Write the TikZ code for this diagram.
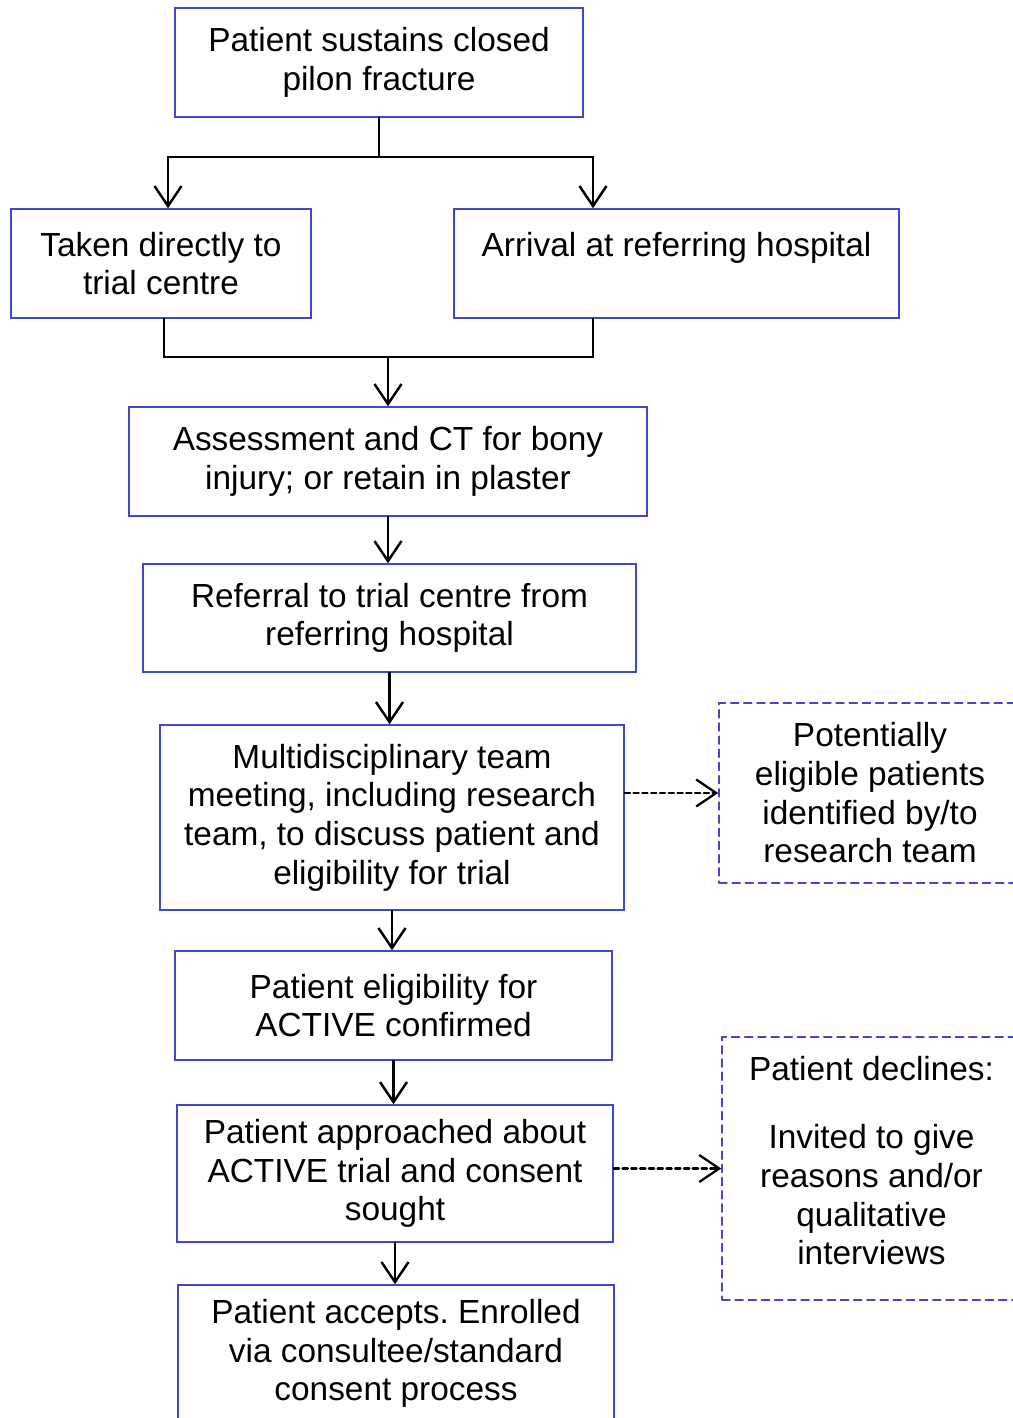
\documentclass[tikz,border=0pt]{standalone}
\usepackage{fontspec}
\setmainfont{Liberation Sans}
\usetikzlibrary{arrows.meta}
\frenchspacing

\definecolor{boxblue}{RGB}{70,70,200}

\begin{document}
\begin{tikzpicture}[%
        x = 0.02cm,
        y = -0.02cm,
        line cap = round,
        > = {Straight Barb[length=4mm, width=5.4mm]},
        box/.style = {%
            draw = boxblue,
            line width = 0.9pt,
            inner sep = 0pt,
            align = center,
            font = \fontsize{19pt}{22pt}\selectfont
        },
        dashbox/.style = {%
            box,
            dash pattern = on 4.5pt off 3pt
        },
        flow/.style = {draw = black, line width = 1.4pt},
        dashflow/.style = {draw = black, line width = 1.3pt,
            dash pattern = on 3pt off 2pt}
    ]

        % Page frame, the right-hand boxes and the last box run off it.
        \useasboundingbox (0, 0) rectangle (1013, 1418);
        \clip (0, 0) rectangle (1013, 1418);

        % Boxes of the main column.
        \node[box, minimum width = 8.16cm, minimum height = 2.18cm] (fracture) at (379, 62.5)
            {Patient sustains closed\\pilon fracture};
        \node[box, minimum width = 6.0cm, minimum height = 2.18cm] (direct) at (161, 263.5)
            {Taken directly to\\trial centre};
        \node[box, minimum width = 8.9cm, minimum height = 2.18cm] (arrival) at (676.5, 263.5)
            {Arrival at referring hospital\\\mbox{}};
        \node[box, minimum width = 10.36cm, minimum height = 2.18cm] (assess) at (388, 461.5)
            {Assessment and CT for bony\\injury; or retain in plaster};
        \node[box, minimum width = 9.86cm, minimum height = 2.16cm] (referral) at (389.5, 618)
            {Referral to trial centre from\\referring hospital};
        \node[box, minimum width = 9.28cm, minimum height = 3.7cm] (mdt) at (392, 817.5)
            {Multidisciplinary team\\meeting, including research\\team, to discuss patient and\\eligibility for trial};
        \node[box, minimum width = 8.74cm, minimum height = 2.18cm] (eligible) at (393.5, 1005.5)
            {Patient eligibility for\\ACTIVE confirmed};
        \node[box, minimum width = 8.72cm, minimum height = 2.74cm] (approach) at (395, 1173.5)
            {Patient approached about\\ACTIVE trial and consent\\sought};
        \node[box, minimum width = 8.72cm, minimum height = 2.74cm] (accept) at (396, 1353.5)
            {Patient accepts. Enrolled\\via consultee/standard\\consent process};

        % Dashed side boxes.
        \node[dashbox, minimum width = 6.04cm, minimum height = 3.6cm] (identified) at (870, 793)
            {Potentially\\eligible patients\\identified by/to\\research team};
        \node[dashbox, minimum width = 5.98cm, minimum height = 5.26cm] (declines) at (871.5, 1168.5)
            {Patient declines:\\[17pt]Invited to give\\reasons and/or\\qualitative\\interviews\\[-13pt]\mbox{}};

        % Split below the first box.
        \coordinate (split) at (379, 157);
        \coordinate (splitL) at (168, 157);
        \coordinate (splitR) at (593, 157);
        \draw[flow] (fracture.south) -- (split);
        \draw[flow] (splitL) -- (splitR);
        \draw[flow, ->] (splitL) -- (splitL |- direct.north);
        \draw[flow, ->] (splitR) -- (splitR |- arrival.north);

        % Join the two routes again.
        \coordinate (mergeL) at (164, 357);
        \coordinate (mergeR) at (593, 357);
        \coordinate (merge) at (388, 357);
        \draw[flow] (mergeL |- direct.south) -- (mergeL) -- (mergeR) -- (mergeR |- arrival.south);
        \draw[flow, ->] (merge) -- (assess.north);

        % Arrows down the column.
        \draw[flow, ->] (assess.south) -- (assess.south |- referral.north);
        \draw[flow, ->] (referral.south) -- (referral.south |- mdt.north);
        \draw[flow, ->] (mdt.south) -- (mdt.south |- eligible.north);
        \draw[flow, ->] (eligible.south) -- (eligible.south |- approach.north);
        \draw[flow, ->] (approach.south) -- (approach.south |- accept.north);

        % Dashed arrows to the side boxes.
        \draw[dashflow, ->] (mdt.east |- identified.west) -- (identified.west);
        \draw[dashflow, ->] (approach.east |- declines.west) -- (declines.west);
    \end{tikzpicture}
\end{document}
